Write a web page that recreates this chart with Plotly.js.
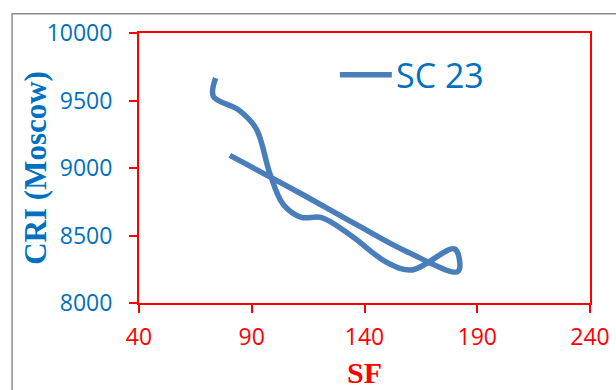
<!DOCTYPE html>
<html>
<head>
<meta charset="utf-8">
<script src="https://cdn.plot.ly/plotly-3.0.1.min.js"></script>
<style>
  html, body { margin: 0; padding: 0; background: #ffffff; }
  #chart { width: 616px; height: 390px; }
</style>
</head>
<body>
<div id="chart"></div>
<script>
// Solar cycle 23: solar flux (SF) against Moscow cosmic-ray intensity (CRI)
const seriesName = "SC 23";
const sf  = [74, 73, 84, 92, 98, 104, 112, 121, 134, 150, 161, 180, 181.5, 158.6, 136.5, 111.3, 80.3];
const cri = [9667, 9530, 9432, 9290, 8960, 8730, 8635, 8632, 8500, 8300, 8245, 8400, 8234, 8382, 8580, 8815, 9093];

const xTicks = [40, 90, 140, 190, 240];
const yTicks = [8000, 8500, 9000, 9500, 10000];

const lineBlue = "#4A7EBB";
const labelBlue = "#0070C0";
const red = "#FF0000";

const W = 616, H = 390;
const margin = { l: 139, r: 25.7, t: 33.3, b: 86.7 };
const plotW = W - margin.l - margin.r;
const plotH = H - margin.t - margin.b;
// pixel position -> paper fraction of the plot area
const px = v => (v - margin.l) / plotW;
const py = v => (H - margin.b - v) / plotH;

const trace = {
  x: sf,
  y: cri,
  name: seriesName,
  type: "scatter",
  mode: "lines",
  line: { color: lineBlue, width: 5.5, shape: "spline", smoothing: 1 },
  showlegend: false,
  hoverinfo: "x+y"
};

const axisCommon = {
  showline: true,
  linecolor: red,
  linewidth: 2,
  mirror: true,
  ticks: "outside",
  tickcolor: red,
  tickwidth: 2,
  ticklen: 8,
  showgrid: false,
  zeroline: false,
  fixedrange: true
};

const layout = {
  width: W,
  height: H,
  margin: margin,
  paper_bgcolor: "#ffffff",
  plot_bgcolor: "#ffffff",
  xaxis: Object.assign({}, axisCommon, {
    range: [40, 240],
    tickvals: xTicks,
    ticktext: xTicks.map(String),
    tickfont: { family: "Open Sans", size: 23, color: red },
    ticklabelstandoff: 4
  }),
  yaxis: Object.assign({}, axisCommon, {
    range: [8000, 10000],
    tickvals: yTicks,
    ticktext: yTicks.map(String),
    tickfont: { family: "Open Sans", size: 23, color: labelBlue },
    ticklabelstandoff: 12
  }),
  shapes: [
    // outer chart frame
    { type: "rect", xref: "paper", yref: "paper",
      x0: px(12), x1: px(640), y0: py(420), y1: py(14),
      line: { color: "#8C8C8C", width: 1.5 }, layer: "below" },
    // legend key
    { type: "line", xref: "paper", yref: "paper",
      x0: px(340), x1: px(392), y0: py(75), y1: py(75),
      line: { color: lineBlue, width: 5.5 } }
  ],
  annotations: [
    { text: "SC 23", xref: "paper", yref: "paper",
      x: px(394), y: py(75), xanchor: "left", yanchor: "middle",
      showarrow: false,
      font: { family: "Open Sans", size: 34, color: labelBlue } },
    { text: "<b>SF</b>", xref: "paper", yref: "paper",
      x: 0.5, y: py(373), xanchor: "center", yanchor: "middle",
      showarrow: false,
      font: { family: "Liberation Serif", size: 30, color: red } },
    { text: "<b>CRI (Moscow)</b>", xref: "paper", yref: "paper",
      x: px(36), y: py(168), xanchor: "center", yanchor: "middle",
      textangle: -90, showarrow: false,
      font: { family: "Liberation Serif", size: 31, color: labelBlue } }
  ]
};

Plotly.newPlot("chart", [trace], layout, { displayModeBar: false, staticPlot: true });
</script>
</body>
</html>
